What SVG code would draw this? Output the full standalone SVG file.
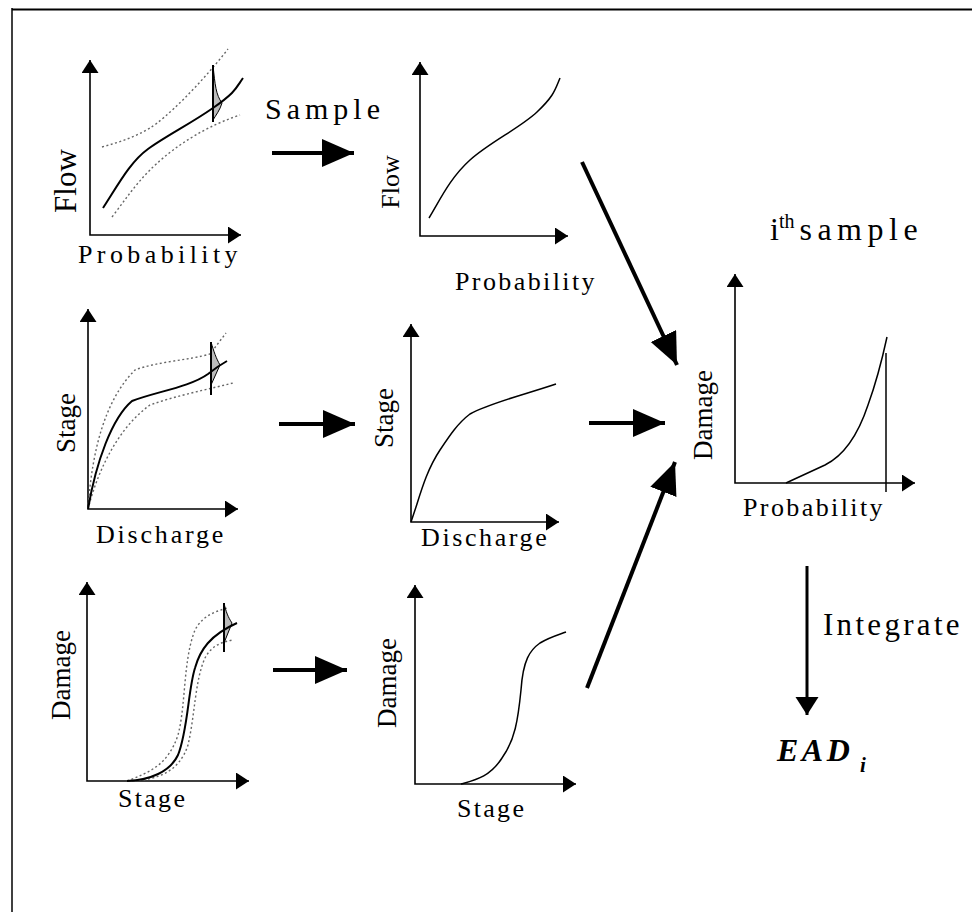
<svg xmlns="http://www.w3.org/2000/svg" width="972" height="912" viewBox="0 0 972 912">
<defs>
<marker id="ax" markerUnits="userSpaceOnUse" markerWidth="14" markerHeight="18" refX="13" refY="8.5" orient="auto-start-reverse"><path d="M0,0 L13,8.5 L0,17 z" fill="#000"/></marker>
<marker id="big" markerUnits="userSpaceOnUse" markerWidth="33" markerHeight="29" refX="32" refY="14" orient="auto"><path d="M0,0 L32,14 L0,28 z" fill="#000"/></marker>
<marker id="int" markerUnits="userSpaceOnUse" markerWidth="19" markerHeight="24" refX="18" refY="11.5" orient="auto"><path d="M0,0 L18,11.5 L0,23 z" fill="#000"/></marker>
</defs>
<style>
.axis{fill:none;stroke:#000;stroke-width:1.6;marker-start:url(#ax);marker-end:url(#ax)}
.curve{fill:none;stroke:#000;stroke-width:1.5}
.curveb{fill:none;stroke:#000;stroke-width:2}
.dot{fill:none;stroke:#666;stroke-width:1.4;stroke-dasharray:2 2.5}
.dist{fill:#bbb;stroke:#000;stroke-width:1}
.vl{stroke:#000;stroke-width:2}
.conn{fill:none;stroke:#000;stroke-width:4;marker-end:url(#big)}
text{font-family:"Liberation Serif","Times New Roman",serif;fill:#000}
.xl{font-size:26px}
.yl{font-size:27px;text-anchor:middle}
</style>
<rect width="972" height="912" fill="#fff"/>
<g id="frame"><line x1="12" y1="9.5" x2="972" y2="9.5" stroke="#000" stroke-width="2"/><line x1="12" y1="8" x2="12" y2="912" stroke="#000" stroke-width="1.5"/></g>

<g id="flow-uncertain">
<path class="axis" d="M90,60 L90,235 L241,235"/>
<path class="dot" d="M102,147 C120,142 135,137 150,128 S200,85 228,49"/>
<path class="dot" d="M112,217 C125,200 135,185 150,170 S195,130 240,115"/>
<path class="dist" d="M213,65 C215,85 216,95 222,103 C220,110 216,115 213,120 z"/>
<line class="vl" x1="213" y1="65" x2="213" y2="122"/>
<path class="curveb" d="M103,208 C118,185 130,162 148,149 S190,124 213,108 S236,88 243,78"/>
<text class="yl" transform="translate(76,181) rotate(-90)" style="font-size:31px">Flow</text>
<text class="xl" x="78" y="263" letter-spacing="4.4">Probability</text>
</g>

<g id="flow-sample">
<path class="axis" d="M420,62 L420,236 L568,236"/>
<path class="curve" d="M429,218 C440,200 450,178 470,160 S520,128 537,112 S555,90 560,78"/>
<text class="yl" transform="translate(399,182) rotate(-90)" style="font-size:26px">Flow</text>
<text class="xl" x="455" y="290" letter-spacing="2.4">Probability</text>
</g>

<g id="stage-uncertain">
<path class="axis" d="M88,309 L88,509 L238,509"/>
<path class="dot" d="M88,509 C92,450 105,400 135,370 C155,362 190,360 210,354 L226,333"/>
<path class="dot" d="M88,509 C98,470 118,428 150,405 C175,396 205,390 233,383"/>
<path class="dist" d="M211,342 C214,352 216,358 220,365 C217,372 214,378 211,385 z"/>
<line class="vl" x1="211" y1="342" x2="211" y2="395"/>
<path class="curveb" d="M88,509 C96,462 112,418 132,401 C155,392 190,387 208,374 Q218,366 227,361"/>
<text class="yl" transform="translate(75,423) rotate(-90)">Stage</text>
<text class="xl" x="96" y="543" letter-spacing="2.8">Discharge</text>
</g>

<g id="stage-sample">
<path class="axis" d="M411,324 L411,522 L559,522"/>
<path class="curve" d="M411,522 L416,507 C422,488 428,468 440,450 C450,435 458,423 470,414 C490,403 520,396 556,384"/>
<text class="yl" transform="translate(393,418) rotate(-90)">Stage</text>
<text class="xl" x="421" y="546" letter-spacing="2.6">Discharge</text>
</g>

<g id="damage-uncertain">
<path class="axis" d="M87,582 L87,781 L249,781"/>
<path class="dot" d="M127,781 C150,772 168,765 178,735 C186,705 183,660 195,630 C203,615 215,612 227,608"/>
<path class="dot" d="M130,781 C160,780 180,770 188,745 C195,715 195,680 205,658 C212,645 222,642 233,640"/>
<path class="dist" d="M224,603 C226,612 228,617 232,623 C229,630 227,636 224,643 z"/>
<line class="vl" x1="224" y1="603" x2="224" y2="652"/>
<path class="curveb" d="M127,781 C150,780 170,772 178,755 C188,730 188,690 195,668 C200,650 210,635 237,623"/>
<text class="yl" transform="translate(70,675) rotate(-90)">Damage</text>
<text class="xl" x="118" y="807" letter-spacing="2.3">Stage</text>
</g>

<g id="damage-sample">
<path class="axis" d="M415,585 L415,784 L576,784"/>
<path class="curve" d="M461,784 C475,780 490,777 502,758 C515,740 518,720 521,690 C523,660 530,650 540,643 C550,637 558,635 566,632"/>
<text class="yl" transform="translate(396,683) rotate(-90)">Damage</text>
<text class="xl" x="457" y="817" letter-spacing="2.3">Stage</text>
</g>

<g id="damage-probability">
<text x="770" y="240" style="font-size:32px">i<tspan dy="-12" style="font-size:20px">th</tspan><tspan dy="12" dx="5" letter-spacing="5.5">sample</tspan></text>
<path class="axis" d="M735,274 L735,483 L915,483"/>
<path class="curve" d="M786,483 L825,465 C845,455 858,435 868,405 C876,383 882,360 887,337"/>
<line x1="886" y1="353" x2="886" y2="492" stroke="#000" stroke-width="1.5"/>
<text class="yl" transform="translate(712,415) rotate(-90)">Damage</text>
<text class="xl" x="743" y="516" letter-spacing="2.4">Probability</text>
</g>

<g id="ead">
<text x="777" y="761" style="font-size:32px;font-weight:bold;font-style:italic" letter-spacing="3.5">EAD</text>
<text x="860" y="772" style="font-size:21px;font-weight:bold;font-style:italic">i</text>
</g>

<g id="connectors">
<line class="conn" x1="272" y1="153" x2="354" y2="153"/>
<text x="265" y="119" style="font-size:30px" letter-spacing="5">Sample</text>
<line class="conn" x1="279" y1="424" x2="355" y2="424"/>
<line class="conn" x1="273" y1="670" x2="347" y2="670"/>
<line class="conn" x1="582" y1="162" x2="677" y2="365"/>
<line class="conn" x1="589" y1="423" x2="665" y2="423"/>
<line class="conn" x1="587" y1="688" x2="675" y2="462"/>
<line x1="807" y1="566" x2="807" y2="715" stroke="#000" stroke-width="3" marker-end="url(#int)"/>
<text x="823" y="635" style="font-size:31px" letter-spacing="3.3">Integrate</text>
</g>
</svg>
